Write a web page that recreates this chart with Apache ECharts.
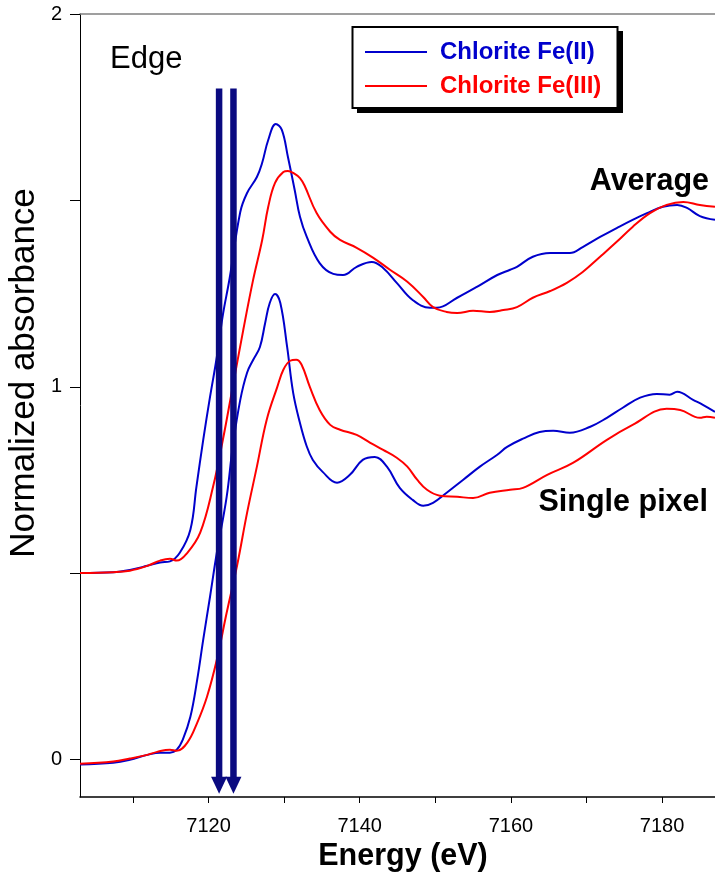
<!DOCTYPE html>
<html>
<head>
<meta charset="utf-8">
<script src="https://cdn.jsdelivr.net/npm/echarts@6/dist/echarts.min.js"></script>
<style>
  html, body { margin: 0; padding: 0; background: #fff; }
  #chart { width: 715px; height: 873px; }
</style>
</head>
<body>
<div id="chart"></div>
<script>
// Fe K-edge XANES of chlorite: averaged spectra (offset by +0.5) and single-pixel spectra.
const energyTicks = [7110, 7120, 7130, 7140, 7150, 7160, 7170, 7180];
const energyLabels = [7120, 7140, 7160, 7180];
const absTicks = [0, 0.5, 1, 1.5, 2];
const absLabels = [0, 1, 2];

// [energy (eV), normalized absorbance]
const avgFe2 = [
  [7103.0, 0.501], [7107.4, 0.503], [7109.6, 0.509], [7111.9, 0.520], [7113.6, 0.529],
  [7114.9, 0.532], [7116.2, 0.555], [7117.6, 0.617], [7118.4, 0.732], [7119.3, 0.858],
  [7120.2, 0.973], [7121.1, 1.080], [7121.9, 1.193], [7122.8, 1.292], [7124.2, 1.469],
  [7125.1, 1.520], [7126.4, 1.563], [7127.1, 1.601], [7127.9, 1.662], [7128.9, 1.705],
  [7129.7, 1.689], [7130.5, 1.617], [7131.4, 1.528],
  [7132.1, 1.456], [7133.0, 1.402], [7134.7, 1.332], [7136.5, 1.303], [7137.8, 1.300],
  [7139.6, 1.322], [7141.6, 1.335], [7143.1, 1.319], [7144.9, 1.279], [7147.0, 1.233],
  [7149.3, 1.212], [7150.2, 1.212], [7152.9, 1.239], [7155.5, 1.268], [7158.2, 1.300],
  [7159.9, 1.314], [7160.8, 1.322], [7162.9, 1.349], [7165.2, 1.359], [7167.8, 1.359],
  [7169.5, 1.375], [7171.8, 1.402], [7174.0, 1.426], [7176.1, 1.448], [7178.0, 1.466],
  [7180.1, 1.483], [7182.0, 1.488], [7183.3, 1.480], [7185.0, 1.458], [7187.0, 1.448]
];
const avgFe3 = [
  [7103.0, 0.501], [7107.4, 0.503], [7109.6, 0.507], [7111.9, 0.520], [7113.6, 0.534],
  [7114.9, 0.539], [7115.8, 0.534], [7117.2, 0.555], [7118.9, 0.609], [7120.6, 0.732],
  [7121.9, 0.858], [7123.2, 1.000], [7124.6, 1.153], [7125.9, 1.287], [7127.1, 1.394],
  [7127.9, 1.483], [7128.8, 1.547], [7129.9, 1.576], [7130.5, 1.579], [7131.4, 1.571],
  [7132.1, 1.560], [7132.7, 1.540], [7134.3, 1.466], [7136.1, 1.416], [7137.4, 1.394],
  [7139.6, 1.373], [7141.8, 1.346], [7144.0, 1.314], [7146.3, 1.282], [7148.4, 1.241],
  [7149.7, 1.214], [7151.5, 1.201], [7152.9, 1.198], [7155.0, 1.204], [7157.2, 1.201],
  [7159.0, 1.206], [7160.8, 1.214], [7162.9, 1.239], [7165.2, 1.257], [7167.4, 1.279],
  [7169.5, 1.308], [7171.8, 1.349], [7174.0, 1.389], [7176.1, 1.429], [7178.4, 1.466],
  [7180.6, 1.488], [7182.8, 1.496], [7185.0, 1.488], [7187.0, 1.483]
];
const pixFe2 = [
  [7103.0, -0.013], [7107.4, -0.008], [7109.6, 0.000], [7111.9, 0.013], [7113.6, 0.019],
  [7114.9, 0.019], [7115.8, 0.027], [7116.6, 0.054], [7117.6, 0.115], [7118.5, 0.214],
  [7119.3, 0.322], [7120.2, 0.437], [7121.1, 0.555], [7122.4, 0.705],
  [7123.2, 0.839], [7124.2, 0.965], [7125.1, 1.038], [7125.9, 1.072], [7126.8, 1.107],
  [7127.5, 1.172], [7128.1, 1.225], [7128.8, 1.249], [7129.5, 1.225], [7130.4, 1.107],
  [7131.2, 0.984], [7132.1, 0.903], [7133.0, 0.840], [7133.8, 0.804], [7135.1, 0.772],
  [7137.0, 0.743], [7138.7, 0.764], [7140.4, 0.804], [7142.0, 0.812], [7143.6, 0.786],
  [7145.3, 0.729], [7147.0, 0.697], [7148.4, 0.681], [7149.7, 0.689], [7151.5, 0.716],
  [7153.7, 0.751], [7155.9, 0.786], [7158.2, 0.818], [7159.5, 0.839], [7161.6, 0.861],
  [7163.8, 0.879], [7165.6, 0.882], [7167.8, 0.877], [7170.5, 0.893], [7172.7, 0.917],
  [7174.8, 0.944], [7177.1, 0.971], [7179.3, 0.981], [7181.0, 0.979], [7182.0, 0.987],
  [7184.1, 0.965], [7185.4, 0.952], [7187.0, 0.933]
];
const pixFe3 = [
  [7103.0, -0.011], [7107.4, -0.005], [7109.6, 0.003], [7111.9, 0.013], [7113.2, 0.021],
  [7114.9, 0.027], [7115.8, 0.024], [7117.2, 0.046], [7118.5, 0.099], [7119.8, 0.169],
  [7121.1, 0.268], [7122.4, 0.394], [7123.8, 0.523], [7125.1, 0.662], [7126.4, 0.786],
  [7127.7, 0.912], [7129.1, 1.000], [7129.9, 1.046], [7130.8, 1.070], [7131.6, 1.073],
  [7132.3, 1.060], [7133.4, 1.000], [7134.7, 0.938], [7136.1, 0.898], [7137.4, 0.885],
  [7139.6, 0.871], [7141.4, 0.850], [7143.1, 0.831], [7144.9, 0.810], [7146.3, 0.786],
  [7147.6, 0.751], [7148.9, 0.724], [7150.6, 0.708], [7152.9, 0.705], [7155.0, 0.702],
  [7157.2, 0.716], [7159.9, 0.724], [7161.6, 0.729], [7164.8, 0.764], [7168.2, 0.796],
  [7172.7, 0.858], [7176.1, 0.898], [7180.6, 0.941], [7182.4, 0.938], [7185.0, 0.917],
  [7185.9, 0.920], [7187.0, 0.917]
];

// Edge position markers: [energy, top of shaft, arrow tip]
const edgeArrows = [
  [7121.4, 1.8, -0.091],
  [7123.3, 1.8, -0.091]
];

const FONT = '"Liberation Sans", Arial, sans-serif';
const BLUE = '#0000cc';
const RED = '#ff0000';
const NAVY = '#0a0a80';

const chart = echarts.init(document.getElementById('chart'), null, { renderer: 'canvas' });

function spectrum(name, data, color) {
  return {
    type: 'line',
    name: name,
    data: data,
    showSymbol: false,
    smooth: 0.4,
    lineStyle: { color: color, width: 2 },
    itemStyle: { color: color },
    z: 3
  };
}

chart.setOption({
  animation: false,
  backgroundColor: '#fff',
  grid: { left: 80, top: 14, right: 0, bottom: 76, containLabel: false },
  xAxis: [{
    type: 'value',
    min: 7103,
    max: 7187,
    axisLine: { show: true, onZero: false, lineStyle: { color: '#000', width: 1.5 } },
    axisTick: { show: true, customValues: energyTicks, length: 6, lineStyle: { color: '#000' } },
    axisLabel: {
      customValues: energyLabels, margin: 19, fontSize: 20, color: '#000', fontFamily: FONT,
      formatter: function (v) { return String(v); }
    },
    splitLine: { show: false }
  }, {
    type: 'value',
    position: 'top',
    min: 7103,
    max: 7187,
    axisLine: { show: true, onZero: false, lineStyle: { color: '#808080', width: 1.5 } },
    axisTick: { show: false },
    axisLabel: { show: false },
    splitLine: { show: false }
  }],
  yAxis: {
    type: 'value',
    min: -0.1,
    max: 2,
    axisLine: { show: true, onZero: false, lineStyle: { color: '#000', width: 1 } },
    axisTick: { show: true, customValues: absTicks, length: 10, lineStyle: { color: '#000' } },
    axisLabel: { customValues: absLabels, margin: 18, fontSize: 20, color: '#000', fontFamily: FONT },
    splitLine: { show: false }
  },
  legend: {
    left: 352,
    top: 26,
    orient: 'vertical',
    icon: 'rect',
    itemWidth: 62,
    itemHeight: 2,
    itemGap: 10,
    padding: [14, 25, 10, 13],
    z: 12,
    textStyle: { fontFamily: FONT, fontSize: 24, fontWeight: 'bold', padding: [0, 0, 0, 8] },
    data: [
      { name: 'Chlorite Fe(II)', textStyle: { color: BLUE } },
      { name: 'Chlorite Fe(III)', textStyle: { color: RED } }
    ]
  },
  graphic: [
    // legend frame with drop shadow
    { type: 'rect', z: 10, shape: { x: 357, y: 31, width: 266, height: 82 }, style: { fill: '#000' } },
    { type: 'rect', z: 11, shape: { x: 352.5, y: 27, width: 265, height: 81 },
      style: { fill: '#fff', stroke: '#000', lineWidth: 2 } },
    { type: 'text', x: 110, y: 59, z: 10,
      style: { text: 'Edge', fontFamily: FONT, fontSize: 31, fill: '#000', textAlign: 'left', textVerticalAlign: 'middle' } },
    { type: 'text', x: 709, y: 182, z: 10,
      style: { text: 'Average', fontFamily: FONT, fontSize: 30.5, fontWeight: 'bold', fill: '#000', textAlign: 'right', textVerticalAlign: 'middle' } },
    { type: 'text', x: 708, y: 503, z: 10,
      style: { text: 'Single pixel', fontFamily: FONT, fontSize: 30.5, fontWeight: 'bold', fill: '#000', textAlign: 'right', textVerticalAlign: 'middle' } },
    { type: 'text', x: 403, y: 857, z: 10,
      style: { text: 'Energy (eV)', fontFamily: FONT, fontSize: 30.5, fontWeight: 'bold', fill: '#000', textAlign: 'center', textVerticalAlign: 'middle' } },
    { type: 'text', x: 24, y: 373, rotation: Math.PI / 2, z: 10,
      style: { text: 'Normalized absorbance', fontFamily: FONT, fontSize: 35, fill: '#000', textAlign: 'center', textVerticalAlign: 'middle' } }
  ],
  series: [
    spectrum('Chlorite Fe(II)', avgFe2, BLUE),
    spectrum('Chlorite Fe(III)', avgFe3, RED),
    spectrum('Chlorite Fe(II)', pixFe2, BLUE),
    spectrum('Chlorite Fe(III)', pixFe3, RED),
    {
      type: 'custom',
      name: 'edge',
      data: edgeArrows,
      encode: { x: 0, y: [1, 2] },
      clip: false,
      z: 5,
      renderItem: function (params, api) {
        const e = api.value(0);
        const top = api.coord([e, api.value(1)]);
        const tip = api.coord([e, api.value(2)]);
        const headH = 17, headW = 16, shaftW = 6.5;
        return {
          type: 'group',
          children: [
            { type: 'rect',
              shape: { x: top[0] - shaftW / 2, y: top[1], width: shaftW, height: tip[1] - headH + 1 - top[1] },
              style: { fill: NAVY } },
            { type: 'polygon',
              shape: { points: [[tip[0] - headW / 2, tip[1] - headH], [tip[0] + headW / 2, tip[1] - headH], [tip[0], tip[1]]] },
              style: { fill: NAVY } }
          ]
        };
      }
    }
  ]
});
</script>
</body>
</html>
